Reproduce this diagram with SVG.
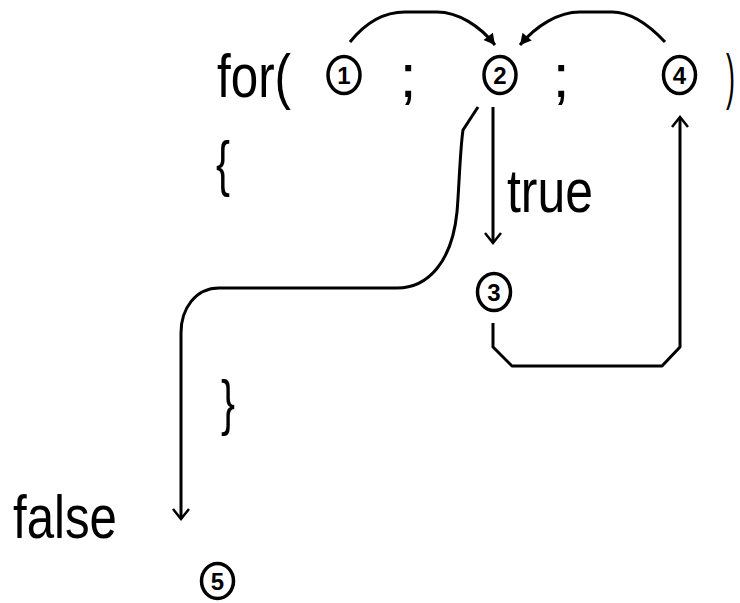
<svg xmlns="http://www.w3.org/2000/svg" width="740" height="603" viewBox="0 0 740 603">
<style>
.t{font-family:"Liberation Sans",Arial,sans-serif;font-size:62px;fill:#000}
.d{font-family:"Liberation Sans",Arial,sans-serif;font-size:24px;font-weight:bold;fill:#000;text-anchor:middle}
.c{fill:none;stroke:#000;stroke-width:3.5}
.l{fill:none;stroke:#000;stroke-width:3;stroke-linejoin:round}
</style>
<defs>
<marker id="v" markerUnits="userSpaceOnUse" markerWidth="24" markerHeight="24" viewBox="-12 -12 24 24" refX="0" refY="0" orient="auto">
<path d="M-10,-8 L0,0 L-10,8" fill="none" stroke="#000" stroke-width="2.5"/>
</marker>
<marker id="f" markerUnits="userSpaceOnUse" markerWidth="24" markerHeight="24" viewBox="-12 -12 24 24" refX="0" refY="0" orient="auto">
<path d="M-11,-6 L0,0 L-11,6 z" fill="#000"/>
</marker>
</defs>
<rect width="740" height="603" fill="#fff"/>
<g id="code">
<text class="t" x="217" y="97" textLength="74" lengthAdjust="spacingAndGlyphs">for(</text>
<text class="t" x="408" y="97" text-anchor="middle">;</text>
<text class="t" x="561" y="97" text-anchor="middle">;</text>
<text class="t" x="726" y="97" textLength="9" lengthAdjust="spacingAndGlyphs">)</text>
<text class="t" x="216" y="184" textLength="14" lengthAdjust="spacingAndGlyphs">{</text>
<text class="t" x="221" y="423" textLength="14" lengthAdjust="spacingAndGlyphs">}</text>
</g>
<g id="n1"><ellipse class="c" cx="344" cy="75" rx="16" ry="18.5"/><text class="d" x="344" y="84">1</text></g>
<g id="n2"><ellipse class="c" cx="500" cy="75" rx="16" ry="18.5"/><text class="d" x="500" y="84">2</text></g>
<g id="n3"><ellipse class="c" cx="494" cy="292" rx="16.5" ry="18.5"/><text class="d" x="494" y="301">3</text></g>
<g id="n4"><ellipse class="c" cx="679.5" cy="75" rx="16" ry="18.5"/><text class="d" x="679.5" y="84">4</text></g>
<g id="n5"><ellipse class="c" cx="217.5" cy="581" rx="16" ry="17.5"/><text class="d" x="217.5" y="590">5</text></g>
<g id="labels">
<text class="t" x="507" y="212" textLength="86" lengthAdjust="spacingAndGlyphs">true</text>
<text class="t" x="13" y="538" textLength="104" lengthAdjust="spacingAndGlyphs">false</text>
</g>
<g id="connectors">
<path class="l" d="M350,42 C366,22 385,12 405,12 L437,12 C458,12 480,26 495,45" marker-end="url(#f)"/>
<path class="l" d="M665,42 C650,26 632,12 612,12 L580,12 C558,12 536,26 520,45" marker-end="url(#f)"/>
<path class="l" d="M493,107 L493,243" marker-end="url(#v)"/>
<path class="l" d="M493,323 L493,347 L512,366 L662,366 L680,347 L680,117" marker-end="url(#v)"/>
<path class="l" d="M478,107 L463,130 C460,150 459,190 457,212 C452,262 428,288 397,288 L219,288 C196,288 181,308 181,333 L181,519" marker-end="url(#v)"/>
</g>
</svg>
